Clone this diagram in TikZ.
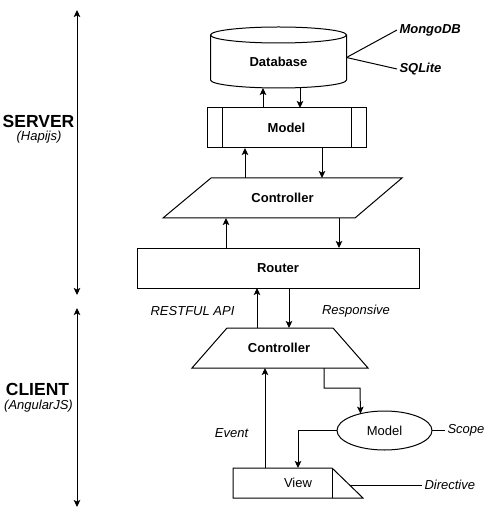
\documentclass[tikz,border=0pt]{standalone}
\usepackage{fontspec}
\setmainfont{Liberation Sans}
\usetikzlibrary{arrows.meta,calc,shapes.geometric}
\begin{document}
\begin{tikzpicture}[x=1pt,y=-1pt, line width=1pt,
  arr/.style={-{Stealth[length=7pt,width=6.5pt,inset=1.5pt]}},
  darr/.style={{Stealth[length=7pt,width=6.5pt,inset=1.5pt]}-{Stealth[length=7pt,width=6.5pt,inset=1.5pt]}},
  bnode/.style={inner sep=0pt, outer sep=0pt, font=\fontsize{13}{15}\selectfont\bfseries},
  rnode/.style={inner sep=0pt, outer sep=0pt, font=\fontsize{13}{15}\selectfont},
  ital/.style={inner sep=2pt, font=\fontsize{13}{15}\selectfont\itshape},
  bital/.style={inner sep=2pt, font=\fontsize{13}{15}\selectfont\bfseries\itshape},
  big/.style={inner sep=0pt, font=\fontsize{17.5}{20}\selectfont\bfseries}
]
\useasboundingbox (0,0) rectangle (491,518);

% side arrows
\coordinate (s1) at (77,10);
\coordinate (s2) at (77,295);
\coordinate (c1) at (77,308);
\coordinate (c2) at (77,507);
\draw[darr] (s1) -- (s2);
\draw[darr] (c1) -- (c2);
\node[big] (server) at (38.5,121) {SERVER};
\node[ital, inner sep=0pt] (hapi) at (39,137) {(Hapijs)};
\node[big] (client) at (37.5,389) {CLIENT};
\node[ital, inner sep=0pt] (ang) at (38.5,406) {(AngularJS)};

% database cylinder
\node[bnode, minimum width=136pt, minimum height=53pt] (db) at (278.5,61.5) {Database};
\draw (210.5,35) -- (210.5,80) arc[start angle=180, end angle=0, x radius=68, y radius=8] -- (346.5,35);
\draw (278.5,35) ellipse [x radius=68, y radius=8];
\node[bital, anchor=west] (mongo) at (397,30) {MongoDB};
\node[bital, anchor=west] (sql) at (397,69) {SQLite};
\coordinate (dbr) at ([yshift=4pt]db.east);
\draw (dbr) -- (mongo.west);
\draw (dbr) -- (sql.west);

% model
\node[bnode, draw, minimum width=159pt, minimum height=40pt] (model) at (286.5,128) {Model};
\draw ([xshift=15pt]model.north west) -- ([xshift=15pt]model.south west);
\draw ([xshift=-15pt]model.north east) -- ([xshift=-15pt]model.south east);

% server controller
\node[bnode, minimum width=191pt, minimum height=40pt] (ctrl) at (282.5,198) {Controller};
\draw (211,178) -- (402,178) -- (355,218) -- (163,218) -- cycle;

% router
\node[bnode, draw, minimum width=282pt, minimum height=40pt] (router) at (278,268) {Router};

% client controller
\node[bnode, minimum width=106pt, minimum height=40pt] (cctrl) at (279,348) {Controller};
\draw (227,328) -- (333,328) -- (368,368) -- (192,368) -- cycle;

% client model
\node[rnode, draw, ellipse, minimum width=95pt, minimum height=39pt] (ell) at (384.5,430.5) {Model};

% view
\node[rnode, minimum width=130pt, minimum height=30pt] (view) at (298,483) {View};
\draw (233,468) -- (332,468) -- (363,498) -- (233,498) -- cycle;
\draw (332,468) -- (332,498);

% connectors server
\draw[arr] (263,0 |- model.north) -- (263,0 |- db.south);
\draw[arr] (300,0 |- db.south) -- (300,0 |- model.north);
\draw[arr] (245,0 |- ctrl.north) -- (245,0 |- model.south);
\draw[arr] (322,0 |- model.south) -- (322,0 |- ctrl.north);
\draw[arr] (226,0 |- router.north) -- (226,0 |- ctrl.south);
\draw[arr] (339,0 |- ctrl.south) -- (339,0 |- router.north);

% connectors client
\draw[arr] (257,0 |- cctrl.north) -- (257,0 |- router.south);
\draw[arr] (289,0 |- router.south) -- (289,0 |- cctrl.north);
\draw[arr] (265,0 |- view.north) -- (265,0 |- cctrl.south);
\draw[arr] (324,0 |- cctrl.south) |- (360,388) -- (ell.145.4);
\draw[arr] (ell.west) -| (298,0 |- view.north);

% labels
\node[ital] (rest) at (192.5,311.5) {RESTFUL API};
\node[ital] (resp) at (356,311.5) {Responsive};
\node[ital] (event) at (231.5,433) {Event};
\node[ital, anchor=west] (scope) at (445,430.5) {Scope};
\draw (ell.east) -- (scope.west);
\coordinate (hyp) at (349.5,485);
\node[ital, anchor=west] (dir) at (422,485) {Directive};
\draw (hyp) -- (dir.west);
\end{tikzpicture}
\end{document}
